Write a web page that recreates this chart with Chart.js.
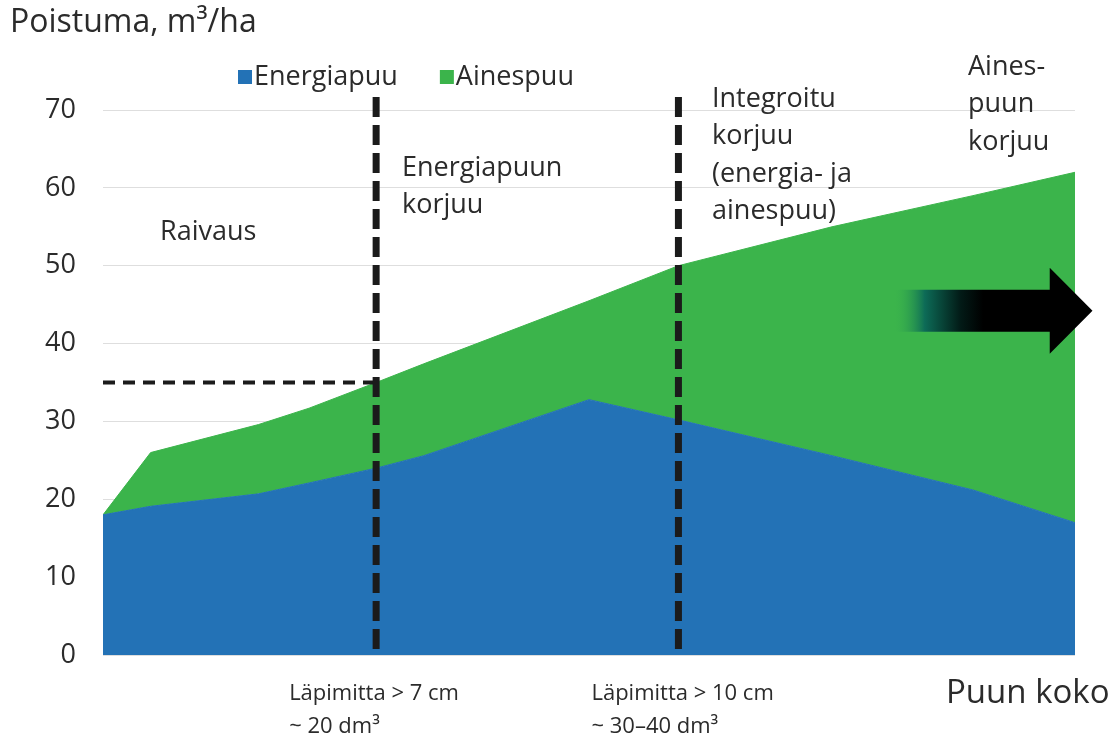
<!DOCTYPE html>
<html>
<head>
<meta charset="utf-8">
<script src="https://cdn.jsdelivr.net/npm/chart.js@4.4.0/dist/chart.umd.min.js"></script>
<style>
  html, body { margin: 0; padding: 0; background: #fff; }
  #wrap { width: 1114px; height: 741px; }
</style>
</head>
<body>
<div id="wrap"><canvas id="chart" width="1114" height="741"></canvas></div>
<script>
// puun koko (suhteellinen asteikko 0-100), poistuma m3/ha
const puunKoko = [0, 4.9, 16, 21.2, 28.1, 33, 50, 59.2, 75, 89.5, 100];
const energiapuu = [18, 19.1, 20.7, 22.1, 24, 25.6, 32.8, 30.2, 25.6, 21.2, 17];
const poistumaYht = [18, 26, 29.6, 31.7, 35, 37.4, 45.5, 50, 55, 59, 62];

const sarjat = ["Energiapuu", "Ainespuu"];
const varit = ["#2372b6", "#3bb44b"];
const yTicks = [0, 10, 20, 30, 40, 50, 60, 70];

// rajat: läpimitta > 7 cm ja > 10 cm, raivausraja 35 m3/ha
const rajat = [28.1, 59.2];
const rajaTaso = 35;

const FONT = "'Open Sans', 'Noto Sans', sans-serif";
const TEXT_COLOR = "#2b2b2b";

const toPoints = (vals) => vals.map((v, i) => ({ x: puunKoko[i], y: v }));

const merkinnat = {
  id: "merkinnat",
  afterDraw(chart) {
    const { ctx, chartArea, scales } = chart;
    const x = scales.x;
    const y = scales.y;
    ctx.save();

    // vaakasuora katkoviiva 35 m3/ha
    ctx.strokeStyle = "#1b1b1b";
    ctx.lineWidth = 4;
    ctx.setLineDash([12, 8]);
    const yRaja = y.getPixelForValue(rajaTaso);
    ctx.beginPath();
    ctx.moveTo(chartArea.left, yRaja);
    ctx.lineTo(x.getPixelForValue(rajat[0]), yRaja);
    ctx.stroke();

    // pystysuorat katkoviivat
    ctx.lineWidth = 7;
    ctx.setLineDash([20, 8]);
    rajat.forEach((r) => {
      const px = x.getPixelForValue(r);
      ctx.beginPath();
      ctx.moveTo(px, chartArea.top - 13);
      ctx.lineTo(px, chartArea.bottom);
      ctx.stroke();
    });
    ctx.setLineDash([]);

    // nuoli
    const ax0 = x.getPixelForValue(81.3);
    const ax1 = x.getPixelForValue(97.4);
    const ax2 = x.getPixelForValue(101.8);
    const ay = y.getPixelForValue(44.2);
    const grad = ctx.createLinearGradient(ax0, 0, ax0 + 90, 0);
    grad.addColorStop(0, "rgba(59,180,75,0)");
    grad.addColorStop(0.35, "#0d6b57");
    grad.addColorStop(0.75, "#021a16");
    grad.addColorStop(1, "#000");
    ctx.fillStyle = grad;
    ctx.beginPath();
    ctx.moveTo(ax0, ay - 21);
    ctx.lineTo(ax1, ay - 21);
    ctx.lineTo(ax1, ay - 43);
    ctx.lineTo(ax2, ay);
    ctx.lineTo(ax1, ay + 43);
    ctx.lineTo(ax1, ay + 21);
    ctx.lineTo(ax0, ay + 21);
    ctx.closePath();
    ctx.fill();

    // tekstit
    ctx.fillStyle = TEXT_COLOR;
    ctx.textBaseline = "middle";
    ctx.textAlign = "left";

    ctx.font = "32px " + FONT;
    ctx.fillText("Poistuma, m³/ha", 10, 23);

    // selite
    ctx.font = "27px " + FONT;
    let lx = 238;
    sarjat.forEach((s, i) => {
      ctx.fillStyle = varit[i];
      ctx.fillRect(lx, 70, 14, 14);
      ctx.fillStyle = TEXT_COLOR;
      ctx.fillText(s, lx + 16, 77);
      lx += 16 + ctx.measureText(s).width + 42;
    });

    const alueet = [
      { rivit: ["Raivaus"], x: 160, y: 232 },
      { rivit: ["Energiapuun", "korjuu"], x: 402, y: 168 },
      { rivit: ["Integroitu", "korjuu", "(energia- ja", "ainespuu)"], x: 712, y: 99 },
      { rivit: ["Aines-", "puun", "korjuu"], x: 968, y: 67 },
    ];
    ctx.font = "27px " + FONT;
    alueet.forEach((a) => {
      a.rivit.forEach((r, i) => ctx.fillText(r, a.x, a.y + i * 37.5));
    });

    // x-akselin merkinnät
    const alaTekstit = [
      ["Läpimitta > 7 cm", "~ 20 dm³"],
      ["Läpimitta > 10 cm", "~ 30–40 dm³"],
    ];
    ctx.font = "22px " + FONT;
    rajat.forEach((r, i) => {
      const px = x.getPixelForValue(r) - 87;
      ctx.fillText(alaTekstit[i][0], px, 694);
      ctx.fillText(alaTekstit[i][1], px, 727);
    });
    ctx.font = "33px " + FONT;
    ctx.fillText("Puun koko", 946, 694);

    ctx.restore();
  },
};

new Chart(document.getElementById("chart"), {
  type: "line",
  data: {
    datasets: [
      {
        label: sarjat[0],
        data: toPoints(energiapuu),
        backgroundColor: varit[0],
        borderColor: varit[0],
        fill: "origin",
      },
      {
        label: sarjat[1],
        data: toPoints(poistumaYht),
        backgroundColor: varit[1],
        borderColor: varit[1],
        fill: "-1",
      },
    ],
  },
  options: {
    responsive: false,
    animation: false,
    layout: { padding: { top: 110, bottom: 86, left: 0, right: 39 } },
    plugins: {
      legend: { display: false },
      tooltip: { enabled: false },
    },
    elements: {
      point: { radius: 0 },
      line: { tension: 0, borderWidth: 1 },
    },
    scales: {
      x: { type: "linear", min: 0, max: 100, display: false },
      y: {
        min: yTicks[0],
        max: yTicks[yTicks.length - 1],
        afterBuildTicks: (scale) => {
          scale.ticks = yTicks.map((v) => ({ value: v }));
        },
        afterFit: (scale) => {
          scale.width = 103;
        },
        ticks: {
          padding: 27,
          color: TEXT_COLOR,
          font: { family: FONT, size: 27 },
        },
        grid: { color: "#dedede", drawTicks: false },
        border: { display: false },
      },
    },
  },
  plugins: [merkinnat],
});
</script>
</body>
</html>
